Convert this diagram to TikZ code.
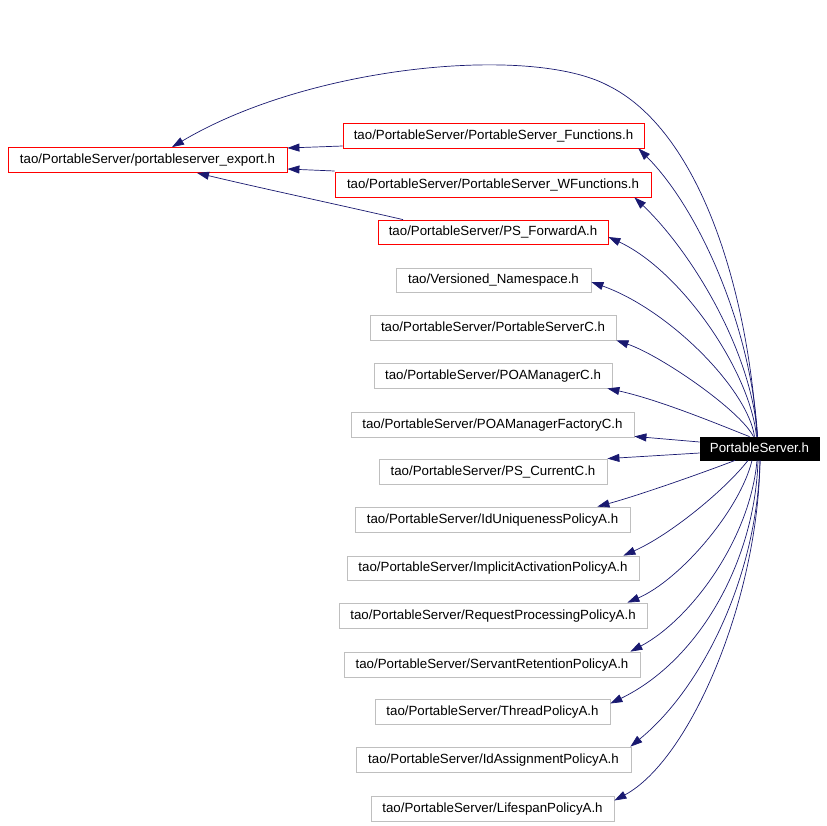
\documentclass[tikz,border=0pt]{standalone}
\usepackage{fontspec}
\setmainfont{Liberation Sans}
\usetikzlibrary{arrows.meta}
\definecolor{edgeblue}{RGB}{25,25,112}
\definecolor{boxgray}{RGB}{191,191,191}
\definecolor{boxred}{RGB}{255,0,0}
\tikzset{
  filebox/.style={draw=boxgray, line width=0.8pt, inner sep=0pt, minimum height=25pt,
    font=\fontsize{13.3}{16}\selectfont, text height=9.5pt, text depth=2.5pt},
  redbox/.style={filebox, draw=boxred},
  mainbox/.style={filebox, draw=black, fill=black, text=white, minimum height=23pt},
  dep/.style={draw=edgeblue, line width=0.7pt, -{Triangle[length=12pt,width=8pt]}, fill=none},
}
\begin{document}
\begin{tikzpicture}[x=1pt,y=-1pt]
\useasboundingbox (0,0) rectangle (827,825);
% nodes
\node[redbox, minimum width=279pt] (export) at (147.5,160) {tao/PortableServer/portableserver\_export.h};
\node[redbox, minimum width=301pt] (f) at (493.5,135.5) {tao/PortableServer/PortableServer\_Functions.h};
\node[redbox, minimum width=316pt] (wf) at (493,184.5) {tao/PortableServer/PortableServer\_WFunctions.h};
\node[redbox, minimum width=230pt, minimum height=24pt] (psf) at (493,232) {tao/PortableServer/PS\_ForwardA.h};
\node[filebox, minimum width=195pt, minimum height=24pt] (vn) at (493.5,280) {tao/Versioned\_Namespace.h};
\node[filebox, minimum width=246pt] (psc) at (493,327.5) {tao/PortableServer/PortableServerC.h};
\node[filebox, minimum width=238pt] (poamc) at (493,375.5) {tao/PortableServer/POAManagerC.h};
\node[filebox, minimum width=283pt] (poamfc) at (492.5,424.5) {tao/PortableServer/POAManagerFactoryC.h};
\node[filebox, minimum width=228pt] (pscur) at (493,471.5) {tao/PortableServer/PS\_CurrentC.h};
\node[filebox, minimum width=275pt] (idu) at (492.5,519.5) {tao/PortableServer/IdUniquenessPolicyA.h};
\node[filebox, minimum width=292pt, minimum height=24pt] (impl) at (493,568) {tao/PortableServer/ImplicitActivationPolicyA.h};
\node[filebox, minimum width=308pt] (req) at (493,615.5) {tao/PortableServer/RequestProcessingPolicyA.h};
\node[filebox, minimum width=296pt] (serv) at (492,664.5) {tao/PortableServer/ServantRetentionPolicyA.h};
\node[filebox, minimum width=235pt] (thr) at (492.5,711.5) {tao/PortableServer/ThreadPolicyA.h};
\node[filebox, minimum width=275pt] (ida) at (493.5,759.5) {tao/PortableServer/IdAssignmentPolicyA.h};
\node[filebox, minimum width=243pt] (life) at (492.5,808.5) {tao/PortableServer/LifespanPolicyA.h};
\node[mainbox, minimum width=119pt] (ps) at (759.5,448.5) {PortableServer.h};
% edges into export
\draw[dep] ([yshift=-10.5pt]f.west) -- ([yshift=12pt]export.east);
\draw[dep] ([yshift=13.5pt]wf.west) -- ([yshift=-9pt]export.east);
\draw[dep] ([xshift=-90pt]psf.north) .. controls (340,205) and (260,188) .. ([xshift=49.5pt]export.south);
% edges from PortableServer.h
\draw[dep] ([xshift=-2.5pt]ps.north) .. controls (748,290) and (700,130) .. (607,85)
   .. controls (530,45) and (310,65) .. ([xshift=24.5pt]export.north);
\draw[dep] ([xshift=-2pt]ps.north) .. controls (752,330) and (700,210) .. ([xshift=-6pt]f.south east);
\draw[dep] ([xshift=-2pt]ps.north) .. controls (752,350) and (690,250) .. ([xshift=-17pt]wf.south east);
\draw[dep] ([xshift=-3pt]ps.north) .. controls (750,370) and (680,270) .. ([yshift=-5pt]psf.east);
\draw[dep] ([xshift=-5pt]ps.north) .. controls (748,390) and (670,310) .. ([yshift=-2pt]vn.east);
\draw[dep] ([xshift=-6pt]ps.north) .. controls (740,410) and (660,355) .. (psc.south east);
\draw[dep] ([xshift=-10pt]ps.north) .. controls (720,425) and (660,400) .. ([xshift=-5pt]poamc.south east);
\draw[dep] ([yshift=6.5pt]ps.west) -- ([yshift=1pt]poamfc.south east);
\draw[dep] ([yshift=-4.5pt]ps.west) -- (pscur.north east);
\draw[dep] ([xshift=-24.5pt]ps.south) .. controls (705,472) and (640,495) .. ([xshift=-33pt]idu.north east);
\draw[dep] ([xshift=-11.5pt]ps.south) .. controls (725,490) and (670,535) .. ([xshift=-16pt]impl.north east);
\draw[dep] ([xshift=-7.5pt]ps.south) .. controls (740,510) and (680,580) .. ([xshift=-20pt]req.north east);
\draw[dep] ([xshift=-2.5pt]ps.south) .. controls (750,540) and (690,620) .. ([xshift=-10pt]serv.north east);
\draw[dep] ([xshift=-1.5pt]ps.south) .. controls (755,560) and (700,660) .. ([yshift=8pt]thr.east);
\draw[dep] ([xshift=0.5pt]ps.south) .. controls (757,580) and (700,690) .. ([xshift=-1pt]ida.north east);
\draw[dep] ([xshift=0.5pt]ps.south) .. controls (758,600) and (690,760) .. ([yshift=8pt]life.east);
\end{tikzpicture}
\end{document}
